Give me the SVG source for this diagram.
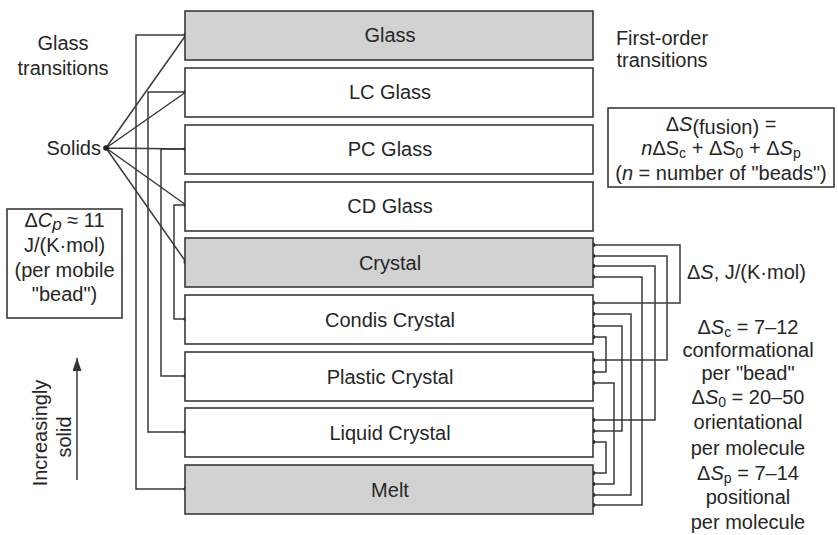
<svg xmlns="http://www.w3.org/2000/svg" width="838" height="535" viewBox="0 0 838 535">
<defs>
<style>
text { font-family: "Liberation Sans", Arial, Helvetica, sans-serif; fill: #262626; }
.box { fill: #ffffff; stroke: #3a3a3a; stroke-width: 1.6; }
.gray { fill: #d2d2d2; }
.lbl { font-size: 20px; text-anchor: middle; }
.side { font-size: 20px; }
.mid { text-anchor: middle; }
.it { font-style: italic; }
.sub { font-size: 14px; }
.conn { fill: none; stroke: #3a3a3a; stroke-width: 1.5; }
.dot { fill: #222222; }
.frame { fill: #ffffff; stroke: #3a3a3a; stroke-width: 1.6; }
</style>
<marker id="ah" viewBox="0 0 13 9" markerWidth="13" markerHeight="9" refX="13" refY="4.5" orient="auto" markerUnits="userSpaceOnUse">
<path d="M0,0 L13,4.5 L0,9 z" fill="#333333"/>
</marker>
</defs>
<rect width="838" height="535" fill="#ffffff"/>

<!-- Connectors -->
<g id="connectors" class="conn">
  <!-- Solids fan -->
  <path d="M106,148 L186,35 M106,148 L186,92 M106,148 L186,149 M106,148 L186,205 M106,148 L186,262"/>
  <!-- glass transitions -->
  <path d="M186,35 H136 V489 H186"/>
  <path d="M186,92 H148 V432 H186"/>
  <path d="M186,149 H161 V376 H186"/>
  <path d="M186,205 H174 V319 H186"/>
  <!-- first-order transitions -->
  <path d="M593,245 H680 V303 H593"/>
  <path d="M593,256 H667 V360 H593"/>
  <path d="M593,266 H655 V420 H593"/>
  <path d="M593,277 H642 V505 H593"/>
  <path d="M593,314 H631 V495 H593"/>
  <path d="M593,326 H622 V431 H593"/>
  <path d="M593,337 H606 V372 H593"/>
  <path d="M593,383 H614 V484 H593"/>
  <path d="M593,442 H606 V473 H593"/>
  <!-- increasingly solid arrow -->
  <path d="M77,480 V358" marker-end="url(#ah)"/>
</g>

<g id="dots" class="dot">
  <circle cx="106" cy="148" r="2.8"/>
  <circle cx="186" cy="35" r="2.5"/><circle cx="186" cy="92" r="2.5"/><circle cx="186" cy="149" r="2.5"/>
  <circle cx="186" cy="205" r="2.5"/><circle cx="186" cy="262" r="2.5"/><circle cx="186" cy="319" r="2.5"/>
  <circle cx="186" cy="376" r="2.5"/><circle cx="186" cy="432" r="2.5"/><circle cx="186" cy="489" r="2.5"/>
  <circle cx="593" cy="245" r="2.3"/><circle cx="593" cy="256" r="2.3"/><circle cx="593" cy="266" r="2.3"/><circle cx="593" cy="277" r="2.3"/>
  <circle cx="593" cy="303" r="2.3"/><circle cx="593" cy="314" r="2.3"/><circle cx="593" cy="326" r="2.3"/><circle cx="593" cy="337" r="2.3"/>
  <circle cx="593" cy="360" r="2.3"/><circle cx="593" cy="372" r="2.3"/><circle cx="593" cy="383" r="2.3"/>
  <circle cx="593" cy="420" r="2.3"/><circle cx="593" cy="431" r="2.3"/><circle cx="593" cy="442" r="2.3"/>
  <circle cx="593" cy="473" r="2.3"/><circle cx="593" cy="484" r="2.3"/><circle cx="593" cy="495" r="2.3"/><circle cx="593" cy="505" r="2.3"/>
</g>

<!-- Nodes -->
<g id="glass"><rect class="box gray" x="185" y="11" width="408" height="49"/><text class="lbl" x="390" y="42">Glass</text></g>
<g id="lc-glass"><rect class="box" x="185" y="68" width="408" height="49"/><text class="lbl" x="390" y="99">LC Glass</text></g>
<g id="pc-glass"><rect class="box" x="185" y="125" width="408" height="49"/><text class="lbl" x="390" y="156">PC Glass</text></g>
<g id="cd-glass"><rect class="box" x="185" y="182" width="408" height="49"/><text class="lbl" x="390" y="213">CD Glass</text></g>
<g id="crystal"><rect class="box gray" x="185" y="238" width="408" height="49"/><text class="lbl" x="390" y="270">Crystal</text></g>
<g id="condis-crystal"><rect class="box" x="185" y="295" width="408" height="49"/><text class="lbl" x="390" y="327">Condis Crystal</text></g>
<g id="plastic-crystal"><rect class="box" x="185" y="352" width="408" height="49"/><text class="lbl" x="390" y="384">Plastic Crystal</text></g>
<g id="liquid-crystal"><rect class="box" x="185" y="408" width="408" height="49"/><text class="lbl" x="390" y="440">Liquid Crystal</text></g>
<g id="melt"><rect class="box gray" x="185" y="465" width="408" height="49"/><text class="lbl" x="390" y="497">Melt</text></g>

<!-- Side labels -->
<g id="glass-transitions-label">
  <text class="side mid" x="63" y="50">Glass</text>
  <text class="side mid" x="63" y="75">transitions</text>
</g>
<g id="solids-label"><text class="side" x="101" y="155" text-anchor="end">Solids</text></g>
<g id="first-order-label">
  <text class="side mid" x="662" y="45">First-order</text>
  <text class="side mid" x="662" y="67">transitions</text>
</g>

<g id="dcp-box">
  <rect class="frame" x="7" y="209" width="115" height="109"/>
  <text class="side mid" x="64.5" y="227">Δ<tspan class="it">C</tspan><tspan class="it" font-size="17" dy="3">p</tspan><tspan dy="-3"> ≈ 11</tspan></text>
  <text class="side mid" x="64.5" y="252">J/(K·mol)</text>
  <text class="side mid" x="64.5" y="277">(per mobile</text>
  <text class="side mid" x="64.5" y="301">"bead")</text>
</g>

<g id="fusion-box">
  <rect class="frame" x="608" y="108" width="226" height="79"/>
  <text class="side mid" x="721" y="131">Δ<tspan class="it">S</tspan><tspan dy="3">(fusion)</tspan><tspan dy="-3"> =</tspan></text>
  <text class="side mid" x="721" y="155"><tspan class="it">n</tspan>ΔS<tspan class="sub" dy="3">c</tspan><tspan dy="-3"> + ΔS</tspan><tspan class="sub" dy="3">0</tspan><tspan dy="-3"> + Δ</tspan><tspan class="it">S</tspan><tspan class="sub" dy="3">p</tspan></text>
  <text class="side mid" x="721" y="180">(<tspan class="it">n</tspan> = number of "beads")</text>
</g>

<g id="ds-label"><text class="side" x="687" y="279">Δ<tspan class="it">S</tspan>, J/(K·mol)</text></g>

<g id="ds-values">
  <text class="side mid" x="748" y="334">Δ<tspan class="it">S</tspan><tspan class="sub" dy="3">c</tspan><tspan dy="-3"> = 7–12</tspan></text>
  <text class="side mid" x="748" y="357">conformational</text>
  <text class="side mid" x="748" y="380">per "bead"</text>
  <text class="side mid" x="748" y="404">Δ<tspan class="it">S</tspan><tspan class="sub" dy="3">0</tspan><tspan dy="-3"> = 20–50</tspan></text>
  <text class="side mid" x="748" y="429">orientational</text>
  <text class="side mid" x="748" y="455">per molecule</text>
  <text class="side mid" x="748" y="480">Δ<tspan class="it">S</tspan><tspan class="sub" dy="3">p</tspan><tspan dy="-3"> = 7–14</tspan></text>
  <text class="side mid" x="748" y="504">positional</text>
  <text class="side mid" x="748" y="529">per molecule</text>
</g>

<g id="increasingly-solid">
  <text class="side mid" transform="translate(47,433) rotate(-90)">Increasingly</text>
  <text class="side mid" transform="translate(71,437) rotate(-90)">solid</text>
</g>
</svg>
